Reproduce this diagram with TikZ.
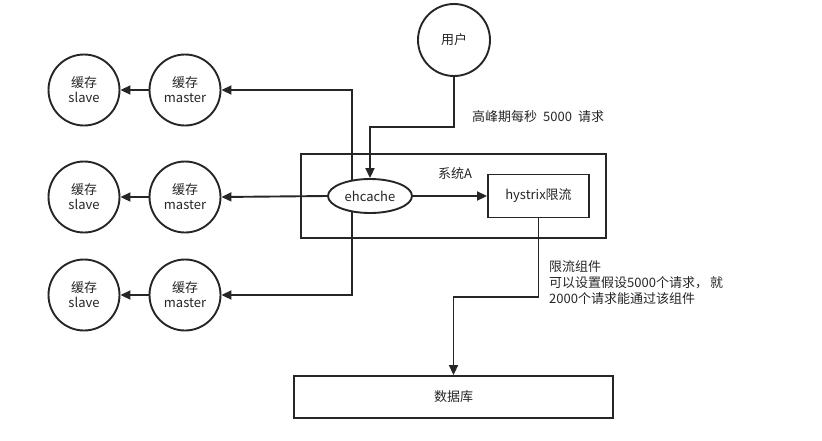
\documentclass[tikz,border=0pt]{standalone}
\usepackage{fontspec}
\setmainfont{Noto Sans CJK SC}
\usetikzlibrary{arrows.meta,shapes.geometric,backgrounds}
\definecolor{ink}{HTML}{262626}
\begin{document}
\begin{tikzpicture}[x=1pt,y=-1pt,
  every node/.style={text=ink,font=\fontsize{13}{15}\selectfont,inner sep=0pt},
  circ/.style={draw=ink,line width=1.9pt,circle,minimum size=71pt,fill=white,align=center},
  boxn/.style={draw=ink,line width=1.9pt,rectangle,fill=white},
  frame/.style={draw=ink,line width=1.9pt,rectangle},
  arr/.style={draw=ink,line width=1.9pt,-{Triangle[length=10pt,width=9pt]}}]
\useasboundingbox (0,0) rectangle (822,440);
\node[frame,minimum width=305pt,minimum height=84pt] (sys) at (453.5,196) {};
\node (syslabel) at (455,174) {系统A};
\node[circ,minimum size=72pt] (user) at (454,40) {用户};
\node[anchor=west] (peak) at (472,117) {高峰期每秒\hspace{6pt}5000\hspace{6pt}请求};
\node[boxn,ellipse,minimum width=84pt,minimum height=34pt] (eh) at (370,196) {ehcache};
\node[boxn,minimum width=101pt,minimum height=43pt] (hys) at (538.5,196) {hystrix限流};
\node[circ] (s1) at (84,90) {缓存\\slave};
\node[circ] (m1) at (185,90) {缓存\\master};
\node[circ] (s2) at (84,197) {缓存\\slave};
\node[circ] (m2) at (185,197) {缓存\\master};
\node[circ] (s3) at (84,295) {缓存\\slave};
\node[circ] (m3) at (185,295) {缓存\\master};
\node[boxn,minimum width=319pt,minimum height=42pt] (db) at (453.5,397) {数据库};
\node[anchor=north west,align=left,font=\fontsize{13}{16}\selectfont] (note) at (549,260) {限流组件\\可以设置假设5000个请求，\hspace{2pt}就\\2000个请求能通过该组件};
\coordinate (k1) at (454,127);
\coordinate (k2) at (538.5,297);
\coordinate (v) at (352,196);
\begin{scope}[on background layer]
\draw[arr] (v) |- (m1.east);
\draw[arr] (v) |- (m3.east);
\end{scope}
\draw[arr] (user) -- (k1) -| (eh.north);
\draw[arr] (eh.east) -- (hys.west);
\draw[arr] (eh.west) -- (m2.east);
\draw[arr] (hys.south) -- (k2) -| (db.north);
\draw[arr] (m1) -- (s1);
\draw[arr] (m2) -- (s2);
\draw[arr] (m3) -- (s3);
\end{tikzpicture}
\end{document}
